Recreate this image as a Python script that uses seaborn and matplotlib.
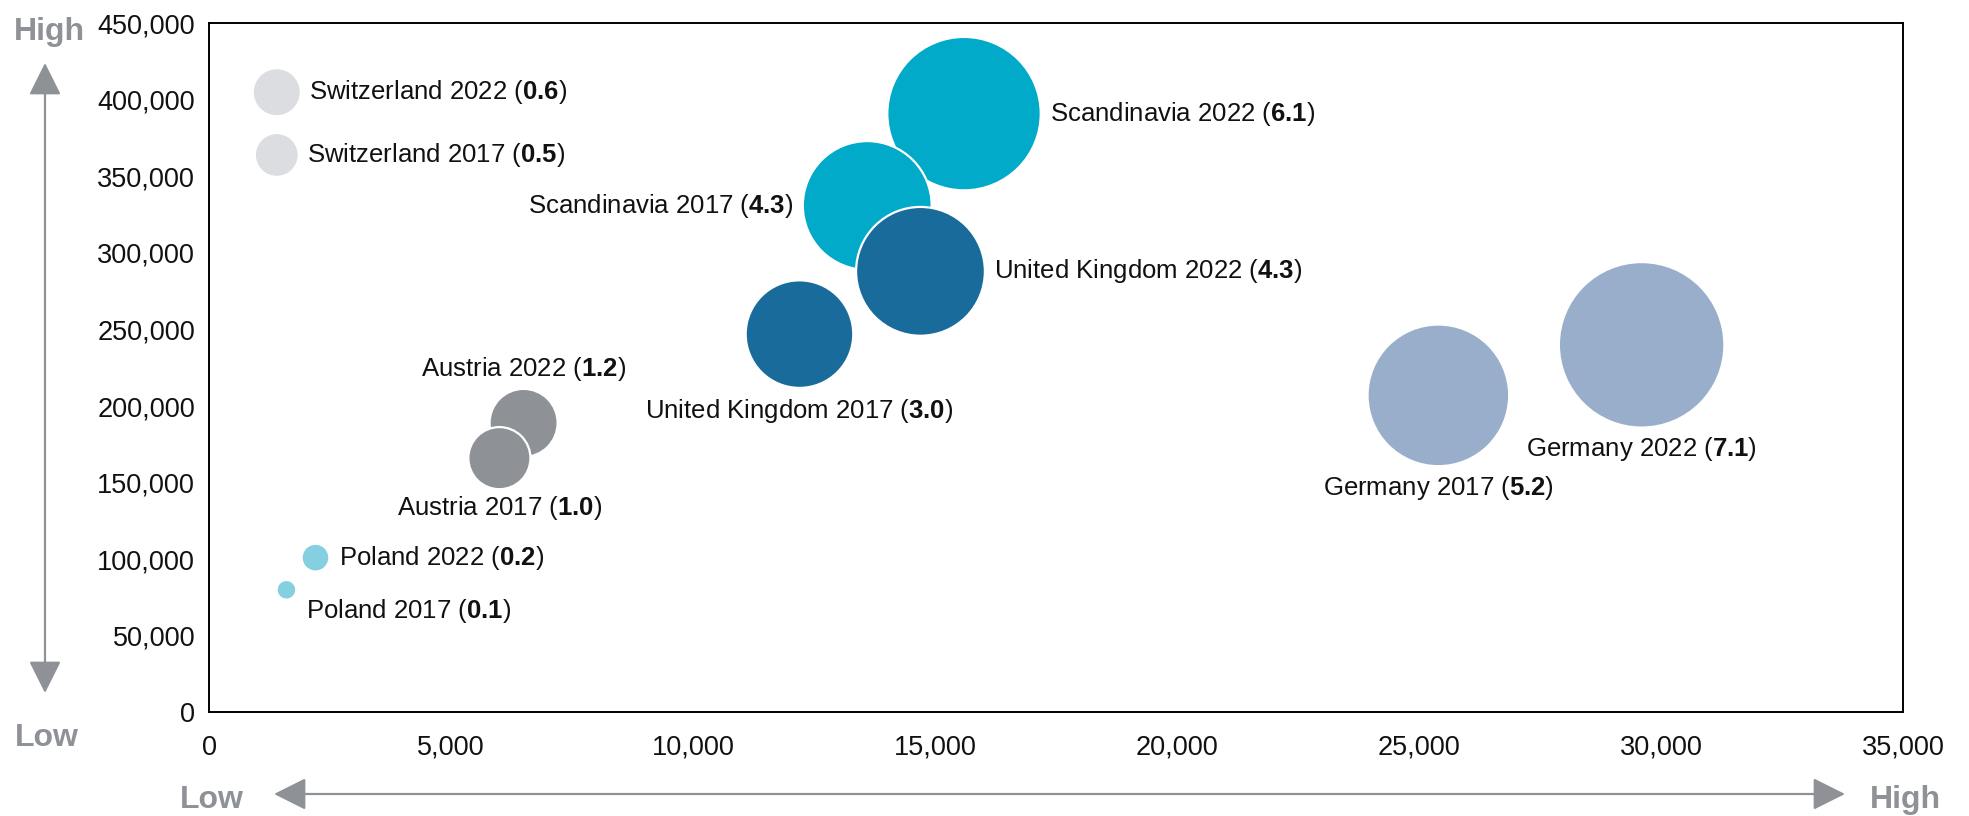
import matplotlib
matplotlib.use("Agg")
import matplotlib.pyplot as plt
import seaborn as sns
import pandas as pd
from matplotlib.ticker import FuncFormatter
from matplotlib.patches import FancyArrowPatch, ArrowStyle

# ---- data ----
countries = ["Switzerland", "Switzerland", "Scandinavia", "Scandinavia",
             "United Kingdom", "United Kingdom", "Austria", "Austria",
             "Poland", "Poland", "Germany", "Germany"]
years = [2022, 2017, 2022, 2017, 2022, 2017, 2022, 2017, 2022, 2017, 2017, 2022]
x_values = [1400, 1400, 15600, 13600, 14700, 12200, 6500, 6000, 2200, 1600, 25400, 29600]
y_values = [405000, 364000, 391000, 331000, 288000, 247000, 189000, 166000,
            101000, 80000, 207000, 240000]
bubble_values = [0.6, 0.5, 6.1, 4.3, 4.3, 3.0, 1.2, 1.0, 0.2, 0.1, 5.2, 7.1]

x_ticks = list(range(0, 35001, 5000))
y_ticks = list(range(0, 450001, 50000))

country_colors = {
    "Switzerland": "#dcdde1",
    "Scandinavia": "#00aac8",
    "United Kingdom": "#186b9b",
    "Austria": "#8e9297",
    "Poland": "#84cfe0",
    "Germany": "#98aecb",
}

# label placement: offset from bubble centre (points) and horizontal alignment
label_layout = [
    (23.5, 0, "left"), (22, 0, "left"),
    (62, 0, "left"), (-53.5, 0, "right"),
    (53, 0, "left"), (0, -55, "center"),
    (0, 38.5, "center"), (0, -36, "center"),
    (17, 0, "left"), (14, -15, "left"),
    (0, -66.5, "center"), (0, -75, "center"),
]

df = pd.DataFrame({"country": countries, "year": years, "x": x_values,
                   "y": y_values, "value": bubble_values})

# ---- style ----
sns.set_theme(style="white")
plt.rcParams["font.family"] = ["Liberation Sans", "DejaVu Sans"]
plt.rcParams["mathtext.fontset"] = "custom"
plt.rcParams["mathtext.rm"] = "Liberation Sans"
plt.rcParams["mathtext.bf"] = "Liberation Sans:bold"
plt.rcParams["mathtext.it"] = "Liberation Sans:italic"

W, H = 1969, 816
fig = plt.figure(figsize=(W / 100, H / 100), dpi=100)
ax = fig.add_axes([209 / W, 1 - 712.3 / H, (1903 - 209) / W, (712.3 - 23.3) / H])

sns.scatterplot(data=df, x="x", y="y", hue="country", palette=country_colors,
                size="value", sizes=(0.1 * 2000, 7.1 * 2000), size_norm=(0.1, 7.1),
                edgecolor="white", linewidth=1.6, alpha=1, legend=False, ax=ax,
                zorder=3)

for cx, cy, c, yr, v, (dx, dy, ha) in zip(x_values, y_values, countries, years,
                                          bubble_values, label_layout):
    ax.annotate(f"{c} {yr} ($\\mathbf{{{v:.1f}}}$)", xy=(cx, cy),
                xytext=(dx, dy), textcoords="offset points",
                ha=ha, va="center", fontsize=18.5, color="#111111", zorder=4)

ax.set_xlim(0, 35000)
ax.set_ylim(0, 450000)
ax.set_xticks(x_ticks)
ax.set_yticks(y_ticks)
fmt = FuncFormatter(lambda v, _: f"{v:,.0f}")
ax.xaxis.set_major_formatter(fmt)
ax.yaxis.set_major_formatter(fmt)
ax.tick_params(axis="both", length=0, labelsize=19.5, colors="#111111")
ax.tick_params(axis="x", pad=16)
ax.tick_params(axis="y", pad=10)
ax.set_xlabel("")
ax.set_ylabel("")
for s in ax.spines.values():
    s.set_visible(True)
    s.set_color("black")
    s.set_linewidth(1.4)

# ---- low / high guide arrows ----
grey = "#8e9297"

def fp(x, y):
    return (x / W, 1 - y / H)

head = ArrowStyle("<|-|>", head_length=20, head_width=10)
for a, b in [(fp(45, 63), fp(45, 693)), (fp(274, 794), fp(1845, 794))]:
    fig.add_artist(FancyArrowPatch(a, b, transform=fig.transFigure,
                                   arrowstyle=head, mutation_scale=1,
                                   color=grey, lw=1.6, shrinkA=0, shrinkB=0))

for txt, x, y in [("High", 49, 40), ("Low", 46.5, 746), ("Low", 212, 808),
                  ("High", 1905, 808)]:
    fig.text(*fp(x, y), txt, ha="center", va="baseline", fontsize=23,
             fontweight="bold", color=grey)

fig.savefig("out.png", dpi=100)
